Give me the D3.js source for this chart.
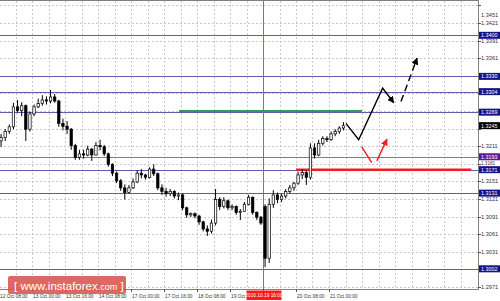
<!DOCTYPE html>
<html><head><meta charset="utf-8">
<script src="https://cdn.jsdelivr.net/npm/d3@7"></script>
<style>
html,body{margin:0;padding:0;background:#fff;}
svg{display:block;font-family:"Liberation Sans",Arial,sans-serif;}
</style></head>
<body>
<svg id="chart" width="500" height="301"></svg>
<script>
// ---------- DATA ----------
// H2 candles starting 12 Oct 08:00 (bar j covers hours 2j..2j+2)
const candleOpen  = [1.3220,1.3226,1.3236,1.3244,1.3278,1.3272,1.3280,1.3240,1.3266,1.3278,1.3284,1.3290,1.3288,1.3295,1.3288,1.3250,1.3245,1.3240,1.3212,1.3192,1.3198,1.3196,1.3206,1.3196,1.3212,1.3210,1.3198,1.3180,1.3165,1.3152,1.3140,1.3132,1.3140,1.3150,1.3165,1.3162,1.3158,1.3172,1.3164,1.3140,1.3134,1.3130,1.3134,1.3126,1.3128,1.3106,1.3094,1.3096,1.3092,1.3082,1.3070,1.3066,1.3080,1.3120,1.3108,1.3118,1.3106,1.3108,1.3098,1.3100,1.3112,1.3124,1.3098,1.3090,1.3108,1.3020,1.3112,1.3128,1.3120,1.3126,1.3134,1.3140,1.3148,1.3162,1.3166,1.3158,1.3208,1.3196,1.3216,1.3224,1.3222,1.3232,1.3236,1.3242];
const candleHigh  = [1.3232,1.3240,1.3248,1.3285,1.3290,1.3286,1.3282,1.3270,1.3282,1.3292,1.3298,1.3296,1.3307,1.3300,1.3290,1.3258,1.3254,1.3242,1.3215,1.3205,1.3205,1.3212,1.3208,1.3218,1.3222,1.3213,1.3200,1.3182,1.3168,1.3155,1.3146,1.3145,1.3156,1.3170,1.3172,1.3164,1.3175,1.3180,1.3166,1.3146,1.3140,1.3138,1.3136,1.3132,1.3130,1.3108,1.3098,1.3098,1.3094,1.3084,1.3076,1.3086,1.3138,1.3124,1.3124,1.3120,1.3112,1.3110,1.3104,1.3116,1.3128,1.3125,1.3100,1.3092,1.3112,1.3122,1.3136,1.3132,1.3130,1.3138,1.3145,1.3150,1.3168,1.3172,1.3170,1.3216,1.3216,1.3222,1.3228,1.3228,1.3236,1.3240,1.3245,1.3252];
const candleLow   = [1.3210,1.3220,1.3232,1.3240,1.3268,1.3262,1.3220,1.3236,1.3262,1.3276,1.3280,1.3282,1.3284,1.3285,1.3244,1.3238,1.3232,1.3205,1.3188,1.3188,1.3190,1.3194,1.3186,1.3195,1.3204,1.3194,1.3176,1.3160,1.3148,1.3135,1.3120,1.3130,1.3138,1.3148,1.3156,1.3154,1.3156,1.3160,1.3136,1.3128,1.3125,1.3126,1.3122,1.3119,1.3102,1.3089,1.3090,1.3088,1.3077,1.3066,1.3058,1.3062,1.3076,1.3102,1.3105,1.3102,1.3102,1.3094,1.3085,1.3100,1.3110,1.3094,1.3085,1.3077,1.3005,1.3012,1.3106,1.3114,1.3116,1.3122,1.3130,1.3135,1.3145,1.3155,1.3145,1.3154,1.3190,1.3194,1.3212,1.3218,1.3220,1.3228,1.3232,1.3238];
const candleClose = [1.3226,1.3236,1.3244,1.3278,1.3272,1.3280,1.3240,1.3266,1.3278,1.3284,1.3290,1.3288,1.3295,1.3288,1.3250,1.3245,1.3240,1.3212,1.3192,1.3198,1.3196,1.3206,1.3196,1.3212,1.3210,1.3198,1.3180,1.3165,1.3152,1.3140,1.3132,1.3140,1.3150,1.3165,1.3162,1.3158,1.3172,1.3164,1.3140,1.3134,1.3130,1.3134,1.3126,1.3128,1.3106,1.3094,1.3096,1.3092,1.3082,1.3070,1.3066,1.3080,1.3120,1.3108,1.3118,1.3106,1.3108,1.3098,1.3100,1.3112,1.3124,1.3098,1.3090,1.3080,1.3020,1.3112,1.3128,1.3120,1.3126,1.3134,1.3140,1.3148,1.3162,1.3166,1.3158,1.3208,1.3196,1.3216,1.3224,1.3222,1.3232,1.3236,1.3242,1.3246];
const barHours = 2;

// price axis ticks
const priceTicks = [1.3451,1.3421,1.3391,1.3361,1.3331,1.3301,1.3271,1.3241,1.3211,1.3181,1.3151,1.3121,1.3091,1.3061,1.3031,1.3001,1.2971];
// horizontal levels
const levelValues = [1.3400,1.3330,1.3304,1.3269,1.3193,1.3171,1.3131,1.3002];
const levelLabels = ["1.3400","1.3330","1.3304","1.3269","1.3193","1.3171","1.3131","1.3002"];
const currentPriceLabel = "1.3245";
// time axis (hours since 12 Oct 08:00)
const timeTickHours  = [0,16,32,48,64,80,96,112,128,144,160];
const timeTickLabels = ["12 Oct 08:00","13 Oct 00:00","13 Oct 16:00","14 Oct 08:00","17 Oct 00:00","17 Oct 16:00","18 Oct 08:00","19 Oct 00:00","19 Oct 16:00","20 Oct 08:00","21 Oct 00:00"];
const markerHour = 128;
const markerLabel = "2016.10.19 16:00";
// drawn objects: [hour, price]
const greenLine   = [[87.3,1.3271],[176,1.3271]];
const redLevel    = [[144,1.3171],[229,1.3171]];
const blackPath   = [[168.2,1.3250],[174.4,1.3222],[186.0,1.3310],[191.4,1.3285]];
const blackDashed = [[194.9,1.3287],[202.7,1.3361]];
const redPath     = [[175.9,1.3210],[180.7,1.3183]];
const redArrow    = [[183.2,1.3186],[188.1,1.3223]];

// ---------- LAYOUT ----------
const svg = d3.select("#chart");
const plotRight = 478, plotBottom = 289, plotTop = 1;
const x = d3.scaleLinear().domain([0, 232]).range([-1, -1 + 2.0625*232]);
const y = d3.scaleLinear().domain([1.2971, 1.3421]).range([287, 23]);

const defs = svg.append("defs");
defs.append("clipPath").attr("id","plot").append("rect")
  .attr("x",0).attr("y",plotTop).attr("width",plotRight).attr("height",plotBottom-plotTop);
function marker(id,color){
  defs.append("marker").attr("id",id).attr("viewBox","0 0 10 10").attr("refX",9).attr("refY",5)
    .attr("markerWidth",5).attr("markerHeight",5).attr("orient","auto")
    .append("path").attr("d","M0,0 L10,5 L0,10 Z").attr("fill",color);
}
marker("ahBlack","#000");
marker("ahRed","#ee1c25");

const g = svg.append("g").attr("clip-path","url(#plot)");

// grid
const gridHours = d3.range(8, 232, 8);
g.selectAll("line.vg").data(gridHours).join("line")
  .attr("x1",d=>Math.round(x(d))+0.5).attr("x2",d=>Math.round(x(d))+0.5)
  .attr("y1",plotTop).attr("y2",plotBottom)
  .attr("stroke","#c8c8c8").attr("stroke-width",1).attr("stroke-dasharray","2,2");
g.selectAll("line.hg").data(priceTicks).join("line")
  .attr("x1",0).attr("x2",plotRight)
  .attr("y1",d=>Math.round(y(d))+0.5).attr("y2",d=>Math.round(y(d))+0.5)
  .attr("stroke","#c8c8c8").attr("stroke-width",1).attr("stroke-dasharray","2,2");

// level lines
const levelColor = v => v === 1.3193 ? "#9a62cc" : "#5c5cb0";
g.selectAll("line.lv").data(levelValues).join("line")
  .attr("x1",0).attr("x2",plotRight)
  .attr("y1",d=>Math.round(y(d))+0.5).attr("y2",d=>Math.round(y(d))+0.5)
  .attr("stroke",levelColor).attr("stroke-width",1);

// vertical red marker
g.append("line").attr("x1",Math.round(x(markerHour))+0.5).attr("x2",Math.round(x(markerHour))+0.5)
  .attr("y1",plotTop).attr("y2",plotBottom).attr("stroke","#f04848").attr("stroke-width",1);

// green and red horizontal segments
const line = d3.line().x(d=>x(d[0])).y(d=>y(d[1]));
g.append("path").attr("d",line(greenLine)).attr("stroke","#2f9e50").attr("stroke-width",2).attr("fill","none");
g.append("path").attr("d",line(redLevel)).attr("stroke","#ee1c25").attr("stroke-width",2.5).attr("fill","none");

// candles
const candles = candleOpen.map((o,i)=>({o, h:candleHigh[i], l:candleLow[i], c:candleClose[i], t:i*barHours+barHours/2}));
const bw = 2.4;
const cg = g.append("g");
cg.selectAll("line.wick").data(candles).join("line")
  .attr("x1",d=>x(d.t)).attr("x2",d=>x(d.t))
  .attr("y1",d=>y(d.h)).attr("y2",d=>y(d.l))
  .attr("stroke","#000").attr("stroke-width",1);
cg.selectAll("rect.body").data(candles).join("rect")
  .attr("x",d=>x(d.t)-bw/2).attr("width",bw)
  .attr("y",d=>y(Math.max(d.o,d.c))).attr("height",d=>Math.max(0.8,Math.abs(y(d.o)-y(d.c))))
  .attr("fill",d=>d.c>=d.o?"#fff":"#000").attr("stroke","#000").attr("stroke-width",0.7);

// forecast arrows
g.append("path").attr("d",line(blackPath)).attr("stroke","#000").attr("stroke-width",1.4)
  .attr("fill","none").attr("marker-end","url(#ahBlack)");
g.append("path").attr("d",line(blackDashed)).attr("stroke","#000").attr("stroke-width",1.4)
  .attr("stroke-dasharray","7,4").attr("fill","none").attr("marker-end","url(#ahBlack)");
g.append("path").attr("d",line(redPath)).attr("stroke","#ee1c25").attr("stroke-width",1.4).attr("fill","none");
g.append("path").attr("d",line(redArrow)).attr("stroke","#ee1c25").attr("stroke-width",1.4)
  .attr("fill","none").attr("marker-end","url(#ahRed)");

// frame
svg.append("line").attr("x1",0).attr("x2",plotRight+0.5).attr("y1",0.5).attr("y2",0.5).attr("stroke","#808080");
svg.append("line").attr("x1",plotRight+0.5).attr("x2",plotRight+0.5).attr("y1",0).attr("y2",plotBottom+0.5).attr("stroke","#808080");
svg.append("line").attr("x1",0).attr("x2",plotRight+0.5).attr("y1",plotBottom+0.5).attr("y2",plotBottom+0.5).attr("stroke","#808080");

// price axis ticks & labels (ticks hidden under a level tag are not labelled)
const tagValues = levelValues.concat([candleClose[candleClose.length-1]]);
const visibleTicks = priceTicks.filter(v => !tagValues.some(t => Math.abs(y(t)-y(v)) < 4.5));
const ax = svg.append("g");
ax.selectAll("line").data(priceTicks).join("line")
  .attr("x1",plotRight).attr("x2",plotRight+3)
  .attr("y1",d=>Math.round(y(d))+0.5).attr("y2",d=>Math.round(y(d))+0.5).attr("stroke","#555");
ax.selectAll("text").data(visibleTicks).join("text")
  .attr("x",481).attr("y",d=>Math.max(15, y(d))).attr("dy","0.35em")
  .attr("font-size",d=>d===1.3181?4.6:5.6).attr("fill","#333").text(d=>d.toFixed(4));

// level labels
const lbl = svg.append("g");
function tag(v, text, fill){
  const yy = y(v);
  lbl.append("rect").attr("x",479).attr("y",yy-3.5).attr("width",21).attr("height",7).attr("fill",fill);
  lbl.append("text").attr("x",481).attr("y",yy).attr("dy","0.35em").attr("font-size",5.4)
    .attr("fill","#fff").text(text);
}
levelValues.forEach((v,i)=>tag(v, levelLabels[i], v===1.3193?"#5d1a96":"#14148a"));
tag(candleClose[candleClose.length-1], currentPriceLabel, "#000");

// time axis
const tx = svg.append("g");
tx.selectAll("line").data(timeTickHours).join("line")
  .attr("x1",d=>Math.round(x(d))+0.5).attr("x2",d=>Math.round(x(d))+0.5)
  .attr("y1",plotBottom).attr("y2",plotBottom+3).attr("stroke","#555");
const timeIdx = timeTickHours.map((h,i)=>i).filter(i => timeTickHours[i] !== markerHour);
tx.selectAll("text").data(timeIdx).join("text")
  .attr("x",i=>x(timeTickHours[i])+1).attr("y",296).attr("dy","0.35em")
  .attr("font-size",4.8).attr("fill","#333").text(i=>timeTickLabels[i]);
// marker time label
const mx = x(markerHour);
tx.append("rect").attr("x",mx-16.5).attr("y",290.5).attr("width",35).attr("height",9.5).attr("fill","#ff1a1a");
tx.append("text").attr("x",mx+1).attr("y",295.5).attr("dy","0.35em").attr("text-anchor","middle")
  .attr("font-size",4.8).attr("fill","#fff").text(markerLabel);

// watermark
const wm = svg.append("g");
wm.append("rect").attr("x",8).attr("y",276).attr("width",118).attr("height",18).attr("rx",2)
  .attr("fill","#d9534f").attr("opacity",0.88);
const wt = wm.append("text").attr("x",14).attr("y",289.5).attr("fill","#fff").attr("font-size",11.5);
wt.append("tspan").text("[ www.instaforex");
wt.append("tspan").attr("font-size",9).text(".com");
wt.append("tspan").text(" ]");
</script>
</body></html>
